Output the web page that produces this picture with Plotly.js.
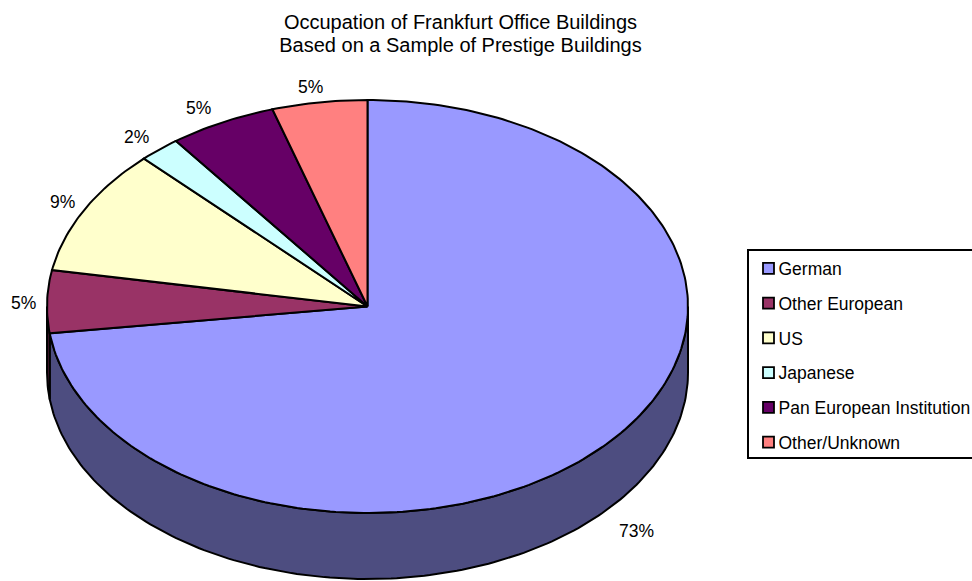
<!DOCTYPE html>
<html><head><meta charset="utf-8">
<script src="https://cdn.plot.ly/plotly-3.0.1.min.js"></script>
<style>html,body{margin:0;padding:0;background:#fff}</style></head>
<body><div id="chart" style="width:972px;height:581px"></div>
<script>
const categories = ["German","Other European","US","Japanese","Pan European Institution","Other/Unknown"];
const shares = [73.0, 4.9, 9.9, 2.1, 5.4, 4.8];
const percentLabels = ["73%","5%","9%","2%","5%","5%"];
const sliceColors = ["#9999FF","#993366","#FFFFCC","#CCFFFF","#660066","#FF8080"];
const wallColors = ["#4D4D80","#4D1A33","#808066","#668080","#330033","#804040"];
const labelShifts = [[28,22],[-24,1],[-22,-8],[-23,-12],[-24,-14],[-9,-15]];

const W=972,H=581,CX=367.5,CY=306.5,RX=320.5,RY=206.5,DEPTH=66;
const FONT="Liberation Sans";
const xRange=[-CX/RX,(W-CX)/RX], yRange=[(CY-H)/RY,CY/RY], depth=DEPTH/RY;
const total=shares.reduce((a,b)=>a+b,0);
const deg=v=>v/total*360;
const px=t=>Math.sin(t*Math.PI/180), py=t=>Math.cos(t*Math.PI/180);
function arc(a,b){const n=Math.max(2,Math.ceil(Math.abs(b-a)));const o=[];for(let i=0;i<=n;i++)o.push(a+(b-a)*i/n);return o;}

const traces=[], annotations=[];
let start=0; const tops=[];
shares.forEach((v,i)=>{
  const end=start+deg(v), mid=(start+end)/2;
  const a=arc(start,end);
  const w0=Math.max(start,90), w1=Math.min(end,270);
  if(w1>w0){
    const r=arc(w0,w1);
    traces.push({type:"scatter",mode:"lines",fill:"toself",fillcolor:wallColors[i],showlegend:false,hoverinfo:"skip",
      line:{color:"#000",width:2},
      x:r.map(px).concat(r.slice().reverse().map(px),[px(w0)]),
      y:r.map(t=>py(t)).concat(r.slice().reverse().map(t=>py(t)-depth),[py(w0)])});
  }
  tops.push({type:"scatter",mode:"lines",fill:"toself",fillcolor:sliceColors[i],showlegend:false,name:categories[i],hoverinfo:"name",
    line:{color:"#000",width:2},
    x:[0].concat(a.map(px),[0]), y:[0].concat(a.map(py),[0])});
  const near=mid>90&&mid<270;
  annotations.push({x:px(mid),y:py(mid)-(near?depth:0),text:percentLabels[i],showarrow:false,
    xshift:labelShifts[i][0],yshift:-labelShifts[i][1],font:{family:FONT,size:17.5,color:"#000"}});
  start=end;
});
traces.push(...tops);
categories.forEach((c,i)=>traces.push({type:"scatter",mode:"markers",x:[null],y:[null],name:c,legendgroup:"g"+i,showlegend:true,hoverinfo:"skip",
  marker:{symbol:"square",size:11,color:sliceColors[i],line:{color:"#000",width:1.8}}}));

Plotly.newPlot("chart",traces,{
  width:W,height:H,margin:{l:0,r:0,t:0,b:0,autoexpand:false},paper_bgcolor:"#fff",plot_bgcolor:"#fff",
  xaxis:{range:xRange,visible:false,fixedrange:true},
  yaxis:{range:yRange,visible:false,fixedrange:true},
  title:{text:"Occupation of Frankfurt Office Buildings<br>Based on a Sample of Prestige Buildings",
    x:460.5/W,xanchor:"center",y:1-29/H,yanchor:"top",font:{family:FONT,size:20,color:"#000"}},
  annotations:annotations,
  legend:{x:747/W,xanchor:"left",y:1-249/H,yanchor:"top",bgcolor:"#fff",bordercolor:"#000",borderwidth:1.5,
    tracegroupgap:9,itemwidth:30,font:{family:FONT,size:17.5,color:"#000"}},
  showlegend:true
},{displayModeBar:false,staticPlot:true}).then(()=>{
  document.querySelectorAll(".legendtext").forEach(t=>t.setAttribute("x",+t.getAttribute("x")-10));
  const bg=document.querySelector(".legend .bg"); if(bg) bg.setAttribute("height",208);
  const lines=document.querySelectorAll(".gtitle tspan.line");
  if(lines[1]) lines[1].setAttribute("y",+lines[1].getAttribute("y")-3);
});
</script></body></html>
